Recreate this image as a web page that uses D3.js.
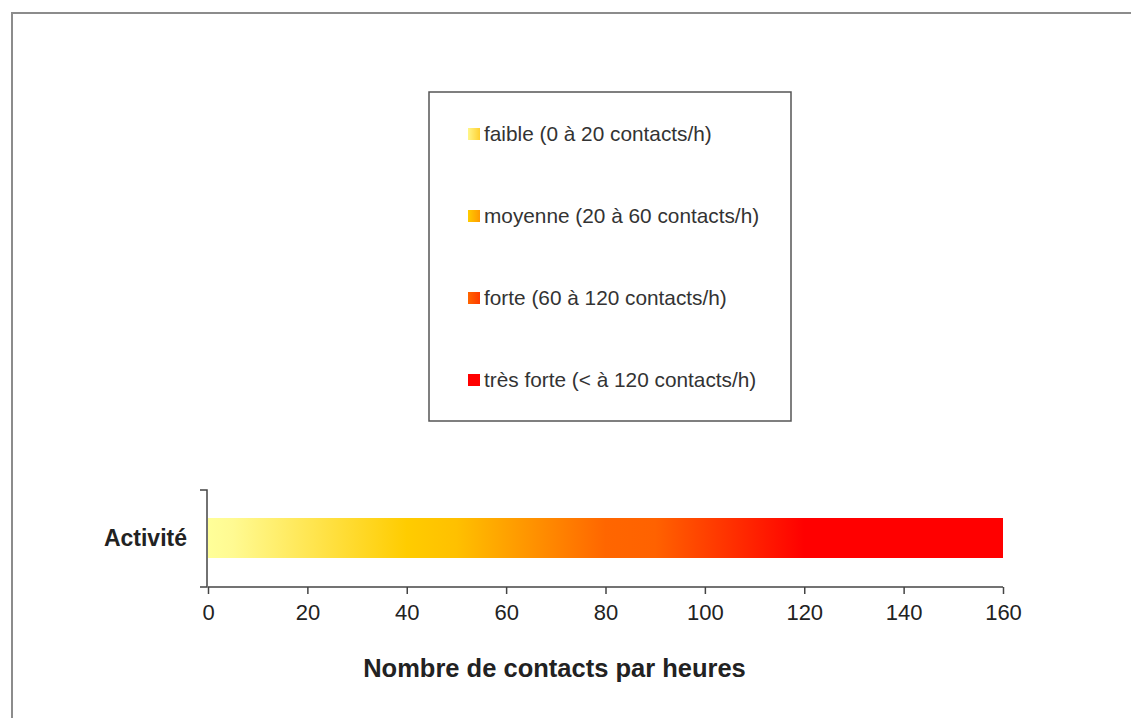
<!DOCTYPE html>
<html>
<head>
<meta charset="utf-8">
<script src="https://cdn.jsdelivr.net/npm/d3@7"></script>
<style>
  html, body { margin: 0; padding: 0; background: #fff; }
  svg { display: block; font-family: "Liberation Sans", Arial, sans-serif; }
</style>
</head>
<body>
<svg id="chart" width="1131" height="718"></svg>
<script>
// ---- data ----
const categories = ["Activité"];
const values = [160];
const xTicks = [0, 20, 40, 60, 80, 100, 120, 140, 160];
const gradientStops = [0, 5, 40, 50, 80, 90, 120, 160];
const gradientColors = ["#FFFF99", "#FFFA92", "#FFCC00", "#FFC000", "#FF6600", "#FF6200", "#FF0000", "#FF0000"];
const legendLabels = [
  "faible (0 à 20 contacts/h)",
  "moyenne (20 à 60 contacts/h)",
  "forte (60 à 120 contacts/h)",
  "très forte (< à 120 contacts/h)"
];
const legendFrom = ["#FFF68A", "#FFCC00", "#FF6600", "#FF0000"];
const legendTo = ["#FFD030", "#FF9A00", "#FF3A00", "#FF0000"];
const xTitle = "Nombre de contacts par heures";

// ---- layout ----
const svg = d3.select("#chart");
const defs = svg.append("defs");

// outer frame
svg.append("rect").attr("x", 12).attr("y", 13).attr("width", 1140).attr("height", 720)
  .attr("fill", "#fff").attr("stroke", "#8c8c8c").attr("stroke-width", 2);

const x = d3.scaleLinear().domain([0, 160]).range([208, 1003]);
const y = d3.scaleBand().domain(categories).range([490, 586]).paddingInner(0).paddingOuter(0.3);

// bar gradient
const grad = defs.append("linearGradient").attr("id", "barGrad")
  .attr("gradientUnits", "userSpaceOnUse")
  .attr("x1", x(0)).attr("x2", x(160)).attr("y1", 0).attr("y2", 0);
gradientStops.forEach((s, i) => {
  grad.append("stop").attr("offset", (s / 160)).attr("stop-color", gradientColors[i]);
});

svg.selectAll("rect.bar").data(values).enter().append("rect")
  .attr("class", "bar")
  .attr("x", x(0))
  .attr("y", (d, i) => y(categories[i]) + (y.bandwidth() - 40) / 2)
  .attr("width", d => x(d) - x(0))
  .attr("height", 40)
  .attr("fill", "url(#barGrad)");

// x axis
const xAxis = svg.append("g").attr("transform", "translate(0,587)")
  .call(d3.axisBottom(x).tickValues(xTicks).tickSize(7).tickPadding(10).tickFormat(d3.format("d")));
xAxis.select(".domain").attr("stroke", "#444").attr("stroke-width", 1.5)
  .attr("d", `M${x(0)},0H${x(160)}`);
xAxis.selectAll(".tick line").attr("stroke", "#444").attr("stroke-width", 1.5);
xAxis.selectAll(".tick text").attr("fill", "#222").style("font-size", "22px")
  .style("font-family", "Liberation Sans, Arial, sans-serif");

// y axis (R-like: line with end ticks)
const yAxisG = svg.append("g").attr("transform", "translate(207,0)");
yAxisG.append("path").attr("fill", "none").attr("stroke", "#444").attr("stroke-width", 1.5)
  .attr("d", "M-7,490H0V587H-7");
yAxisG.selectAll("text.cat").data(categories).enter().append("text")
  .attr("class", "cat")
  .attr("x", -20)
  .attr("y", d => y(d) + y.bandwidth() / 2)
  .attr("dy", "0.35em")
  .attr("text-anchor", "end")
  .attr("fill", "#222")
  .style("font-size", "23px").style("font-weight", "bold")
  .text(d => d);

// x title
svg.append("text").attr("x", (x(0) + x(160)) / 2 - 51).attr("y", 668)
  .attr("dy", "0.35em").attr("text-anchor", "middle")
  .attr("fill", "#222").style("font-size", "25.5px").style("font-weight", "bold")
  .text(xTitle);

// legend
svg.append("rect").attr("x", 429).attr("y", 92).attr("width", 362).attr("height", 329)
  .attr("fill", "#fff").attr("stroke", "#555").attr("stroke-width", 1.5);

const ly = d3.scalePoint().domain(legendLabels).range([134, 380]);
legendLabels.forEach((lab, i) => {
  const g = defs.append("linearGradient").attr("id", "lg" + i);
  g.append("stop").attr("offset", 0).attr("stop-color", legendFrom[i]);
  g.append("stop").attr("offset", 1).attr("stop-color", legendTo[i]);
});
const items = svg.selectAll("g.leg").data(legendLabels).enter().append("g").attr("class", "leg")
  .attr("transform", d => `translate(0,${ly(d)})`);
items.append("rect").attr("x", 468).attr("y", -6).attr("width", 12).attr("height", 12)
  .attr("fill", (d, i) => `url(#lg${i})`);
items.append("text").attr("x", 484).attr("y", 0).attr("dy", "0.35em")
  .attr("fill", "#333").style("font-size", "20.8px")
  .text(d => d);
</script>
</body>
</html>
